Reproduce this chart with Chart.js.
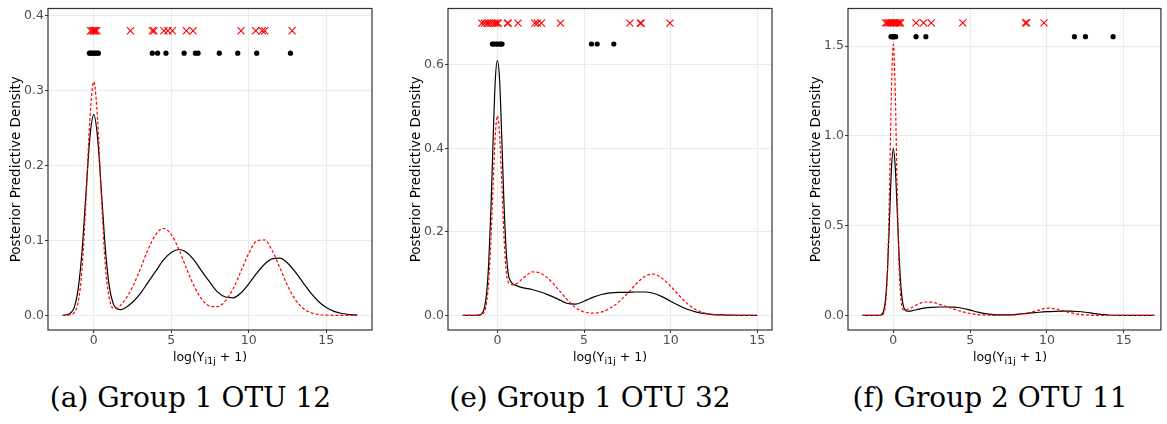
<!DOCTYPE html>
<html>
<head>
<meta charset="utf-8">
<script src="https://cdn.jsdelivr.net/npm/chart.js@4.4.1/dist/chart.umd.min.js"></script>
<style>
    html, body { margin: 0; padding: 0; background: #fff; overflow: hidden; width: 1167px; height: 424px; }
    .panel { position: absolute; top: 0; }
    .leyenda { position: absolute; width: 400px; text-align: center; font-family: 'DejaVu Serif', serif; font-size: 28px; line-height: 28px; color: #000; white-space: nowrap; }
</style>
</head>
<body>
<canvas id="grafico1" class="panel" width="380" height="372" style="left:0px"></canvas>
<canvas id="grafico2" class="panel" width="380" height="372" style="left:400px"></canvas>
<canvas id="grafico3" class="panel" width="367" height="372" style="left:800px"></canvas>
<div class="leyenda" style="left:-9.5px; top:384px">(a) Group 1 OTU 12</div>
<div class="leyenda" style="left:390px; top:384px">(e) Group 1 OTU 32</div>
<div class="leyenda" style="left:790px; top:384px">(f) Group 2 OTU 11</div>
<script>
// Ticks de los ejes
const ticksX = [0, 5, 10, 15];
const ticksY1 = [0, 0.1, 0.2, 0.3, 0.4];
const ticksY2 = [0, 0.2, 0.4, 0.6];
const ticksY3 = [0, 0.5, 1.0, 1.5];

// Panel (a) Group 1 OTU 12
const xs1 = [-2, -1.75, -1.5, -1.25, -1, -0.75, -0.5, -0.25, 0, 0.25, 0.5, 0.75, 1, 1.25, 1.5, 1.75, 2,
    2.5, 3, 3.5, 4, 4.5, 5, 5.5, 6, 6.5, 7, 7.5, 8, 8.5, 9, 9.5, 10, 10.5, 11, 11.5, 12, 12.5, 13, 13.5, 14, 14.5, 15, 15.5, 16, 16.5, 17];
const negro1 = [0.0002, 0.0008, 0.003, 0.011, 0.036, 0.087, 0.163, 0.237, 0.268, 0.237, 0.164, 0.089, 0.039, 0.016, 0.009, 0.0078, 0.0095,
    0.0175, 0.029, 0.044, 0.059, 0.074, 0.084, 0.088, 0.084, 0.073, 0.058, 0.044, 0.031, 0.0245, 0.0235, 0.030, 0.042, 0.056, 0.068, 0.0755, 0.0765, 0.070, 0.058, 0.0438, 0.030, 0.0186, 0.0104, 0.0053, 0.0025, 0.001, 0.0004];
const rojo1 = [0, 0.0002, 0.001, 0.004, 0.018, 0.063, 0.154, 0.261, 0.312, 0.261, 0.156, 0.066, 0.023, 0.0098, 0.0095, 0.014, 0.0202,
    0.0379, 0.0618, 0.0877, 0.108, 0.116, 0.108, 0.0877, 0.0618, 0.0379, 0.021, 0.0123, 0.0117, 0.0196, 0.036, 0.059, 0.0828, 0.099, 0.1007, 0.087, 0.0639, 0.0399, 0.0212, 0.0096, 0.0037, 0.0012, 0.0003, 0.0001, 0, 0, 0];
const cruces1 = [-0.2, -0.1, 0, 0.05, 0.1, 0.2, 2.37, 3.78, 3.89, 4.53, 4.78, 5.08, 5.98, 6.41, 9.5, 10.45, 10.87, 11.03, 12.8];
const puntos1 = [-0.28, -0.2, -0.1, 0, 0.1, 0.2, 0.3, 3.78, 4.12, 4.66, 5.83, 6.56, 6.73, 8.1, 9.29, 10.51, 12.69];

// Panel (e) Group 1 OTU 32
const xs2 = [-2, -1.75, -1.5, -1.25, -1, -0.875, -0.75, -0.625, -0.5, -0.375, -0.25, -0.125, 0, 0.125, 0.25, 0.375, 0.5, 0.625, 0.75, 0.875, 1,
    1.25, 1.5, 1.75, 2, 2.5, 3, 3.5, 4, 4.5, 5, 5.5, 6, 6.5, 7, 7.5, 8, 8.5, 9, 9.5, 10, 10.5, 11, 11.5, 12, 12.5, 13, 13.5, 14, 14.5, 15];
const negro2 = [0, 0, 0, 0.0003, 0.0015, 0.005, 0.018, 0.052, 0.125, 0.252, 0.415, 0.56, 0.610, 0.566, 0.43, 0.275, 0.16, 0.10, 0.083, 0.076, 0.073,
    0.069, 0.066, 0.064, 0.062, 0.056, 0.048, 0.039, 0.029, 0.027, 0.034, 0.043, 0.050, 0.054, 0.055, 0.055, 0.056, 0.056, 0.053, 0.045, 0.034, 0.023, 0.014, 0.008, 0.004, 0.002, 0.001, 0.0004, 0.0001, 0, 0];
const rojo2 = [0, 0, 0, 0, 0.0008, 0.0025, 0.009, 0.030, 0.081, 0.177, 0.307, 0.428, 0.478, 0.435, 0.32, 0.195, 0.11, 0.08, 0.076, 0.073, 0.074,
    0.08, 0.090, 0.098, 0.104, 0.101, 0.086, 0.063, 0.039, 0.019, 0.008, 0.0055, 0.008, 0.017, 0.032, 0.052, 0.075, 0.093, 0.099, 0.089, 0.070, 0.047, 0.027, 0.013, 0.005, 0.002, 0.0007, 0.0002, 0, 0, 0];
const cruces2 = [-0.9, -0.75, -0.6, -0.5, -0.35, -0.2, -0.1, 0, 0.05, 0.58, 0.62, 1.19, 2.16, 2.31, 2.54, 3.64, 7.65, 8.25, 8.3, 9.96];
const puntos2 = [-0.29, -0.2, -0.1, 0, 0.1, 0.2, 0.27, 5.43, 5.76, 6.72];

// Panel (f) Group 2 OTU 11
const xs3 = [-2, -1.75, -1.5, -1.25, -1, -0.875, -0.75, -0.625, -0.5, -0.375, -0.25, -0.125, 0, 0.125, 0.25, 0.375, 0.5, 0.625, 0.75, 0.875, 1,
    1.25, 1.5, 1.75, 2, 2.5, 3, 3.5, 4, 4.5, 5, 5.5, 6, 6.5, 7, 7.5, 8, 8.5, 9, 9.5, 10, 10.5, 11, 11.5, 12, 12.5, 13, 13.5, 14, 14.5, 15, 15.5, 16, 16.5, 17];
const negro3 = [0, 0, 0, 0, 0.0002, 0.001, 0.006, 0.027, 0.096, 0.26, 0.53, 0.81, 0.931, 0.83, 0.59, 0.335, 0.155, 0.065, 0.033, 0.025, 0.023,
    0.027, 0.032, 0.037, 0.041, 0.045, 0.047, 0.047, 0.046, 0.040, 0.030, 0.019, 0.010, 0.005, 0.003, 0.003, 0.006, 0.010, 0.014, 0.018, 0.021, 0.023, 0.024, 0.024, 0.022, 0.018, 0.012, 0.006, 0.0025, 0.001, 0.0004, 0.0001, 0, 0, 0];
const rojo3 = [0, 0, 0, 0, 0, 0.0003, 0.0015, 0.011, 0.066, 0.26, 0.69, 1.243, 1.51, 1.25, 0.70, 0.275, 0.085, 0.035, 0.030, 0.032, 0.036,
    0.046, 0.058, 0.068, 0.075, 0.074, 0.062, 0.048, 0.034, 0.020, 0.011, 0.005, 0.002, 0.001, 0.001, 0.002, 0.004, 0.010, 0.019, 0.030, 0.041, 0.038, 0.028, 0.016, 0.007, 0.003, 0.001, 0, 0, 0, 0, 0, 0, 0, 0];
const cruces3 = [-0.5, -0.4, -0.3, -0.2, -0.1, 0, 0.1, 0.2, 0.3, 0.4, 0.48, 1.48, 1.97, 2.47, 4.52, 8.6, 8.68, 9.81];
const puntos3 = [-0.15, -0.05, 0, 0.05, 0.15, 1.48, 2.12, 11.79, 12.51, 14.31];

const fuente = 'DejaVu Sans';

// Borde completo del panel (estilo theme_bw)
const marcoPanel = {
    id: 'marcoPanel',
    afterDraw(chart) {
        const { ctx, chartArea } = chart;
        ctx.save();
        ctx.strokeStyle = '#333333';
        ctx.lineWidth = 1.2;
        ctx.strokeRect(chartArea.left, chartArea.top, chartArea.right - chartArea.left, chartArea.bottom - chartArea.top);
        ctx.restore();
    }
};

// Titulo del eje x con subindice
const tituloX = {
    id: 'tituloX',
    afterDraw(chart) {
        const { ctx, chartArea } = chart;
        const centro = chart.options.centroTitulo || (chartArea.left + chartArea.right) / 2;
        const partes = [
            { texto: 'log(Y', font: '12.5px "' + fuente + '"', dy: 0 },
            { texto: 'i1j', font: '9.5px "' + fuente + '"', dy: 3 },
            { texto: ' + 1)', font: '12.5px "' + fuente + '"', dy: 0 }
        ];
        ctx.save();
        ctx.fillStyle = '#000';
        ctx.textAlign = 'left';
        ctx.textBaseline = 'alphabetic';
        let total = 0;
        partes.forEach(p => { ctx.font = p.font; p.ancho = ctx.measureText(p.texto).width; total += p.ancho; });
        let x = centro - total / 2;
        partes.forEach(p => {
            ctx.font = p.font;
            ctx.fillText(p.texto, x, 360.5 + p.dy);
            x += p.ancho;
        });
        ctx.restore();
    }
};

function aPuntos(xs, ys) {
    return xs.map((x, i) => ({ x: x, y: ys[i] }));
}

function crearPanel(id, xs, negro, rojo, cruces, yCruz, puntos, yPunto, ticksY, minX, maxX, minY, maxY, derecha, centroTitulo) {
    const ctx = document.getElementById(id).getContext('2d');
    return new Chart(ctx, {
        type: 'scatter',
        data: {
            datasets: [
                {
                    data: aPuntos(xs, negro),
                    showLine: true,
                    borderColor: '#000000',
                    borderWidth: 1.2,
                    pointRadius: 0,
                    cubicInterpolationMode: 'monotone',
                    order: 3
                },
                {
                    data: aPuntos(xs, rojo),
                    showLine: true,
                    borderColor: '#FF0000',
                    borderWidth: 1.2,
                    borderDash: [3, 2],
                    pointRadius: 0,
                    cubicInterpolationMode: 'monotone',
                    order: 2
                },
                {
                    data: cruces.map(x => ({ x: x, y: yCruz })),
                    pointStyle: 'crossRot',
                    pointRadius: 5,
                    borderColor: '#FF0000',
                    backgroundColor: '#FF0000',
                    borderWidth: 1.1,
                    order: 1
                },
                {
                    data: puntos.map(x => ({ x: x, y: yPunto })),
                    pointStyle: 'circle',
                    pointRadius: 2.6,
                    backgroundColor: '#000000',
                    borderColor: '#000000',
                    borderWidth: 0,
                    order: 0
                }
            ]
        },
        options: {
            responsive: false,
            animation: false,
            devicePixelRatio: 1,
            centroTitulo: centroTitulo,
            layout: { padding: { top: 6, right: derecha, left: 0, bottom: 0 } },
            plugins: {
                legend: { display: false },
                tooltip: { enabled: false }
            },
            scales: {
                x: {
                    type: 'linear',
                    min: minX,
                    max: maxX,
                    afterBuildTicks: (escala) => { escala.ticks = ticksX.map(v => ({ value: v })); },
                    afterFit: (escala) => { escala.height = 42; },
                    border: { display: false },
                    grid: { color: '#EBEBEB', lineWidth: 1, tickLength: 3, tickColor: '#333333', tickWidth: 1 },
                    ticks: {
                        color: '#4D4D4D',
                        font: { family: fuente, size: 12.5 },
                        padding: 0,
                        maxRotation: 0,
                        callback: (valor) => String(valor)
                    }
                },
                y: {
                    min: minY,
                    max: maxY,
                    afterBuildTicks: (escala) => { escala.ticks = ticksY.map(v => ({ value: v })); },
                    afterFit: (escala) => { escala.width = 48; },
                    border: { display: false },
                    grid: { color: '#EBEBEB', lineWidth: 1, tickLength: 3, tickColor: '#333333', tickWidth: 1 },
                    ticks: {
                        color: '#4D4D4D',
                        font: { family: fuente, size: 12.5 },
                        padding: 1,
                        callback: (valor) => valor.toFixed(1)
                    },
                    title: {
                        display: true,
                        text: 'Posterior Predictive Density',
                        color: '#000000',
                        font: { family: fuente, size: 13.5 },
                        padding: { top: 8, bottom: 0 }
                    }
                }
            }
        },
        plugins: [marcoPanel, tituloX]
    });
}

document.addEventListener('DOMContentLoaded', () => {
    crearPanel('grafico1', xs1, negro1, rojo1, cruces1, 0.38, puntos1, 0.35, ticksY1, -2.95, 17.95, -0.0195, 0.4097, 8, null);
    crearPanel('grafico2', xs2, negro2, rojo2, cruces2, 0.70, puntos2, 0.65, ticksY2, -2.85, 15.85, -0.035, 0.735, 8, null);
    // el panel (f) aparece recortado a la derecha en la figura original
    crearPanel('grafico3', xs3, negro3, rojo3, cruces3, 1.63, puntos3, 1.553, ticksY3, -2.95, 17.42, -0.081, 1.71, 2, 210);
});
</script>
</body>
</html>
